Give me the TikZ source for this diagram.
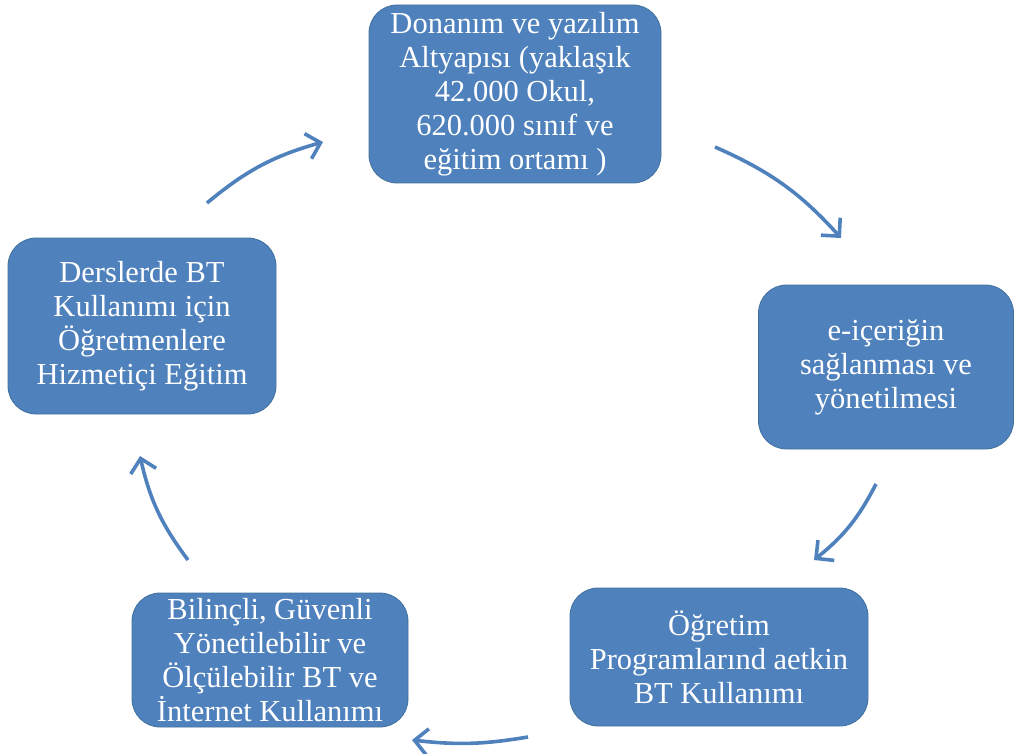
\documentclass[tikz,border=0pt]{standalone}
\usepackage{fontspec}
\setmainfont{Liberation Serif}
\usetikzlibrary{arrows.meta}
\definecolor{boxblue}{HTML}{4F81BD}
\definecolor{boxline}{HTML}{41719C}
\begin{document}
\begin{tikzpicture}[x=1pt, y=-1pt,
  blk/.style={rectangle, rounded corners=28pt, fill=boxblue, draw=boxline,
              line width=0.8pt, text=white, align=center, inner sep=0pt,
              font=\fontsize{30.5}{34}\selectfont},
  flow/.style={-{Straight Barb[length=13pt, width=26pt, line width=3.6pt]},
               line width=3.6pt, draw=boxblue}
]
\useasboundingbox (0,0) rectangle (1014,754);

\node[blk, minimum width=292pt, minimum height=178pt] (infra) at (515,94)
  {Donanım ve yazılım\\ Altyapısı (yaklaşık\\ 42.000 Okul,\\ 620.000 sınıf ve\\ eğitim ortamı )};
\node[blk, minimum width=255pt, minimum height=164pt] (icerik) at (886,367)
  {e-içeriğin\\ sağlanması ve\\ yönetilmesi};
\node[blk, minimum width=298pt, minimum height=138pt] (program) at (719,657)
  {Öğretim\\ Programlarınd aetkin\\ BT Kullanımı};
\node[blk, minimum width=276pt, minimum height=134pt] (guvenli) at (270,660)
  {Bilinçli, Güvenli\\ Yönetilebilir ve\\ Ölçülebilir BT ve\\ İnternet Kullanımı};
\node[blk, minimum width=268pt, minimum height=176pt] (egitim) at (142,326)
  {Derslerde BT\\ Kullanımı için\\ Öğretmenlere\\ Hizmetiçi Eğitim};

% free ends of the cycle arrows
\coordinate (a1) at (715,147);  \coordinate (b1) at (841,238);
\coordinate (a2) at (876,484);  \coordinate (b2) at (814,560);
\coordinate (a3) at (528,737);  \coordinate (b3) at (412,740);
\coordinate (a4) at (188,560);  \coordinate (b4) at (140,456);
\coordinate (a5) at (207,203);  \coordinate (b5) at (323,142);

\draw[flow, bend left=12] (a1) to (b1);
\draw[flow, bend left=12] (a2) to (b2);
\draw[flow, bend left=8]  (a3) to (b3);
\draw[flow, bend left=12] (a4) to (b4);
\draw[flow, bend left=12] (a5) to (b5);
\end{tikzpicture}
\end{document}
